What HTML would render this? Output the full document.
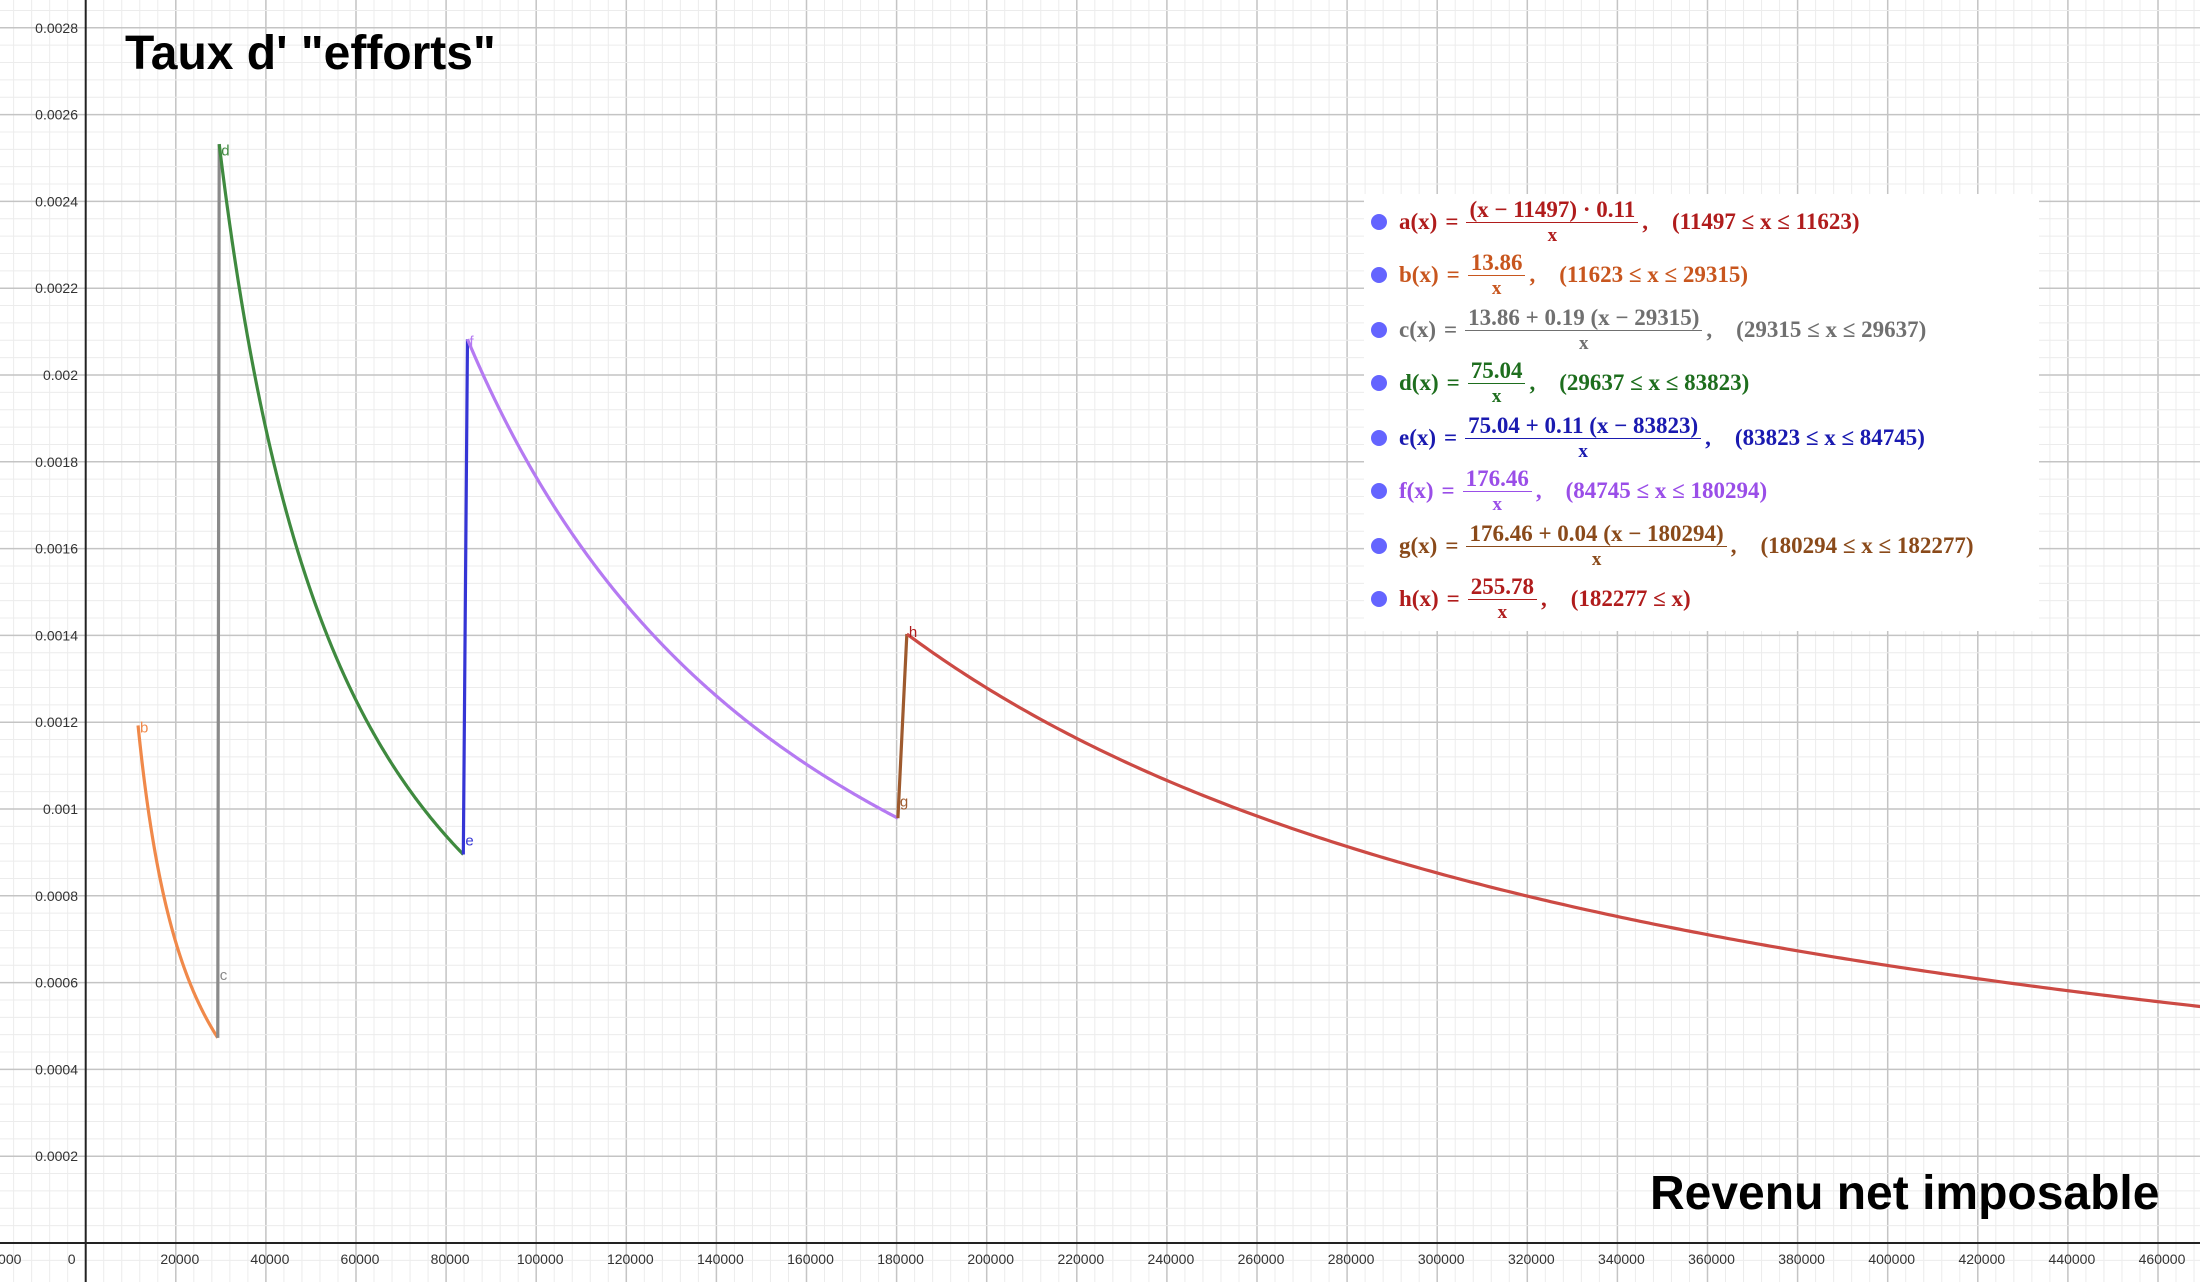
<!DOCTYPE html>
<html><head><meta charset="utf-8"><style>
html,body{margin:0;padding:0;background:#fff;}
body{width:2200px;height:1282px;position:relative;overflow:hidden;font-family:"Liberation Sans",sans-serif;}
svg{position:absolute;left:0;top:0;}
.title{position:absolute;font-family:"Liberation Sans",sans-serif;font-weight:bold;color:#000;white-space:nowrap;}
#leg{position:absolute;left:1364px;top:194px;width:675px;height:437px;background:#fff;}
.row{position:absolute;left:0;height:50px;display:flex;align-items:center;font-family:"Liberation Serif",serif;font-weight:bold;font-size:23px;white-space:nowrap;}
.dot{width:16px;height:16px;border-radius:50%;background:#6464ff;margin-left:7px;margin-right:12px;}
.eq{margin:0 8px;}
.fr{display:inline-flex;flex-direction:column;align-items:center;margin:0 4px 0 0;}
.fr .n{border-bottom:1.5px solid currentColor;padding:0 3px;line-height:25px;}
.fr .d{line-height:25px;font-size:19px;}
.cond{margin-left:24px;}
</style></head><body>
<svg id="g" width="2200" height="1282" xmlns="http://www.w3.org/2000/svg"></svg>
<div class="title" style="left:125px;top:26px;font-size:48px;">Taux d' "efforts"</div>
<div class="title" style="left:1650px;top:1166px;font-size:48px;">Revenu net imposable</div>
<div id="leg">
<div class="row" style="top:3px;color:#b01c1c"><span class="dot"></span>a(x)<span class="eq">=</span><span class="fr"><span class="n">(x − 11497) · 0.11</span><span class="d">x</span></span>,<span class="cond">(11497 ≤ x ≤ 11623)</span></div>
<div class="row" style="top:56px;color:#c8561e"><span class="dot"></span>b(x)<span class="eq">=</span><span class="fr"><span class="n">13.86</span><span class="d">x</span></span>,<span class="cond">(11623 ≤ x ≤ 29315)</span></div>
<div class="row" style="top:111px;color:#707070"><span class="dot"></span>c(x)<span class="eq">=</span><span class="fr"><span class="n">13.86 + 0.19 (x − 29315)</span><span class="d">x</span></span>,<span class="cond">(29315 ≤ x ≤ 29637)</span></div>
<div class="row" style="top:164px;color:#1e6e1e"><span class="dot"></span>d(x)<span class="eq">=</span><span class="fr"><span class="n">75.04</span><span class="d">x</span></span>,<span class="cond">(29637 ≤ x ≤ 83823)</span></div>
<div class="row" style="top:219px;color:#1a1ab0"><span class="dot"></span>e(x)<span class="eq">=</span><span class="fr"><span class="n">75.04 + 0.11 (x − 83823)</span><span class="d">x</span></span>,<span class="cond">(83823 ≤ x ≤ 84745)</span></div>
<div class="row" style="top:272px;color:#9a4ee8"><span class="dot"></span>f(x)<span class="eq">=</span><span class="fr"><span class="n">176.46</span><span class="d">x</span></span>,<span class="cond">(84745 ≤ x ≤ 180294)</span></div>
<div class="row" style="top:327px;color:#8a4a1a"><span class="dot"></span>g(x)<span class="eq">=</span><span class="fr"><span class="n">176.46 + 0.04 (x − 180294)</span><span class="d">x</span></span>,<span class="cond">(180294 ≤ x ≤ 182277)</span></div>
<div class="row" style="top:380px;color:#b01c1c"><span class="dot"></span>h(x)<span class="eq">=</span><span class="fr"><span class="n">255.78</span><span class="d">x</span></span>,<span class="cond">(182277 ≤ x)</span></div>
</div>
<script>
(function(){
var ns="http://www.w3.org/2000/svg",s=document.getElementById("g");
var X0=85.7,SX=90.1/20000,Y0=1243,SY=86.8/0.0002;
function X(v){return X0+v*SX;}function Y(v){return Y0-v*SY;}
function el(t,a,txt){var e=document.createElementNS(ns,t);for(var k in a)e.setAttribute(k,a[k]);if(txt!=null)e.textContent=txt;s.appendChild(e);return e;}
for(var i=-5;i<=120;i++){var x=X(i*4000);if(x<0||x>2200)continue;el("line",{x1:x,y1:0,x2:x,y2:1282,stroke:i%5?"#ececec":"#c4c4c4","stroke-width":i%5?1:1.5});}
for(var j=-1;j<=80;j++){var y=Y(j*0.00004);if(y<0||y>1282)continue;el("line",{x1:0,y1:y,x2:2200,y2:y,stroke:j%5?"#ececec":"#c4c4c4","stroke-width":j%5?1:1.5});}
el("line",{x1:X0,y1:0,x2:X0,y2:1282,stroke:"#222","stroke-width":2});
el("line",{x1:0,y1:Y0,x2:2200,y2:Y0,stroke:"#222","stroke-width":2});
for(var k=-1;k<=24;k++){var v=k*20000,x=X(v)+4;if(k==0)x=X(0)-14;el("text",{x:x,y:1264,"font-size":"14","font-family":"Liberation Sans, sans-serif",fill:"#333","text-anchor":"middle"},String(v));}
for(var m=1;m<=14;m++){var v=m*0.0002;el("text",{x:78,y:Y(v)+5,"font-size":"14","font-family":"Liberation Sans, sans-serif",fill:"#333","text-anchor":"end"},String(+v.toFixed(4)));}
function curve(f,a,b,col,w){var d="",n=300;for(var i=0;i<=n;i++){var x=a+(b-a)*i/n;d+=(i?"L":"M")+X(x).toFixed(2)+","+Y(f(x)).toFixed(2);}el("path",{d:d,fill:"none",stroke:col,"stroke-width":w||3.2,"stroke-linejoin":"round"});}
curve(function(x){return 13.86/x},11623,29315,"#f0894a");
curve(function(x){return (13.86+0.19*(x-29315))/x},29315,29637,"#8a8a8a");
curve(function(x){return 75.04/x},29637,83823,"#3f8a3f");
curve(function(x){return (75.04+0.11*(x-83823))/x},83823,84745,"#3535d5");
curve(function(x){return 176.46/x},84745,180294,"#b57af2");
curve(function(x){return (176.46+0.04*(x-180294))/x},180294,182277,"#9e5a2e");
curve(function(x){return 255.78/x},182277,480000,"#cc4a44");
function lab(t,x,y,c){el("text",{x:X(x)+2,y:Y(y)+6,"font-size":"15","font-family":"Liberation Sans, sans-serif",fill:c},t);}
lab("b",11623,0.00119,"#f0894a");lab("c",29315,0.00062,"#8a8a8a");lab("d",29637,0.00252,"#3f8a3f");
lab("e",83823,0.00093,"#3535d5");lab("f",84745,0.00208,"#b57af2");lab("g",180294,0.00102,"#9e5a2e");lab("h",182277,0.00141,"#b01c1c");
})();
</script>
</body></html>
